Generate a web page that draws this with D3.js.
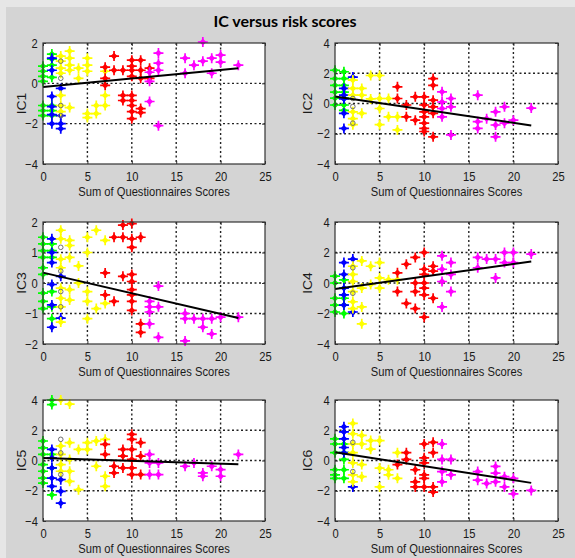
<!DOCTYPE html>
<html>
<head>
<meta charset="utf-8">
<script src="https://cdn.jsdelivr.net/npm/d3@7"></script>
<style>
  body { margin: 0; background: #fff; }
  text { font-family: "Liberation Sans", Arial, sans-serif; }
</style>
</head>
<body>
<div id="chart"></div>
<script>
// textos e eixos
var title = "IC versus risk scores";
var xLabel = "Sum of Questionnaires Scores";
var panelNames = ["IC1", "IC2", "IC3", "IC4", "IC5", "IC6"];
var xTicks = [0, 5, 10, 15, 20, 25];
var yDomains = [[-4, 2], [-4, 4], [-2, 2], [-4, 4], [-4, 4], [-4, 4]];
var yTicks = [[-4, -2, 0, 2], [-4, -2, 0, 2, 4], [-2, -1, 0, 1, 2], [-4, -2, 0, 2, 4], [-4, -2, 0, 2, 4], [-4, -2, 0, 2, 4]];

// reta ajustada: valor em x=0 e em x=22
var fitRange = [0, 22];
var fitEnds = [[-0.18, 0.75], [0.47, -1.45], [0.34, -1.15], [-0.4, 1.41], [0.16, -0.24], [0.55, -1.48]];

// cores dos grupos (K = circulos cinza)
var groupColors = { G: "#00ff00", B: "#0000ff", Y: "#ffff00", R: "#ff0000", M: "#ff00ff", K: "#707070" };

// pontos: [soma dos questionarios, valor IC, grupo]
var ic1 = [
  [0,0.85,"G"],[0,0.6,"G"],[0,0.35,"G"],[0,0.1,"G"],[0,-1.1,"G"],[0,-1.35,"G"],[0,-1.6,"G"],
  [1,1.45,"G"],[1,1.2,"G"],[1,0.9,"G"],[1,0.3,"G"],[1,-1.1,"G"],[1,-1.35,"G"],[1,-1.6,"G"],
  [1,1.25,"B"],[1,0.65,"B"],[1,-0.65,"B"],[1,-1.15,"B"],[1,-1.55,"B"],[1,-2.0,"B"],
  [2,-0.25,"B"],[2,-1.6,"B"],[2,-2.0,"B"],[2,-2.25,"B"],
  [2,1.35,"Y"],[2,1.1,"Y"],[2,0.75,"Y"],[2,0.5,"Y"],[2,-0.6,"Y"],[2,-1.1,"Y"],[2,-1.4,"Y"],
  [3,1.6,"Y"],[3,1.25,"Y"],[3,0.9,"Y"],[3,0.65,"Y"],[3,-1.2,"Y"],
  [4,0.75,"Y"],[4,0.25,"Y"],
  [5,1.25,"Y"],[5,0.9,"Y"],[5,0.6,"Y"],[5,-1.5,"Y"],[5,-1.7,"Y"],
  [6,-1.1,"Y"],[6,-1.5,"Y"],
  [7,0.6,"Y"],[7,-0.6,"Y"],[7,-1.1,"Y"],
  [7,0.8,"R"],[7,0.25,"R"],[7,-0.1,"R"],
  [8,1.35,"R"],[8,0.65,"R"],
  [9,0.65,"R"],[9,-0.6,"R"],[9,-0.85,"R"],
  [10,1.15,"R"],[10,0.85,"R"],[10,0.65,"R"],[10,0.35,"R"],[10,-0.6,"R"],[10,-0.85,"R"],[10,-1.1,"R"],[10,-1.4,"R"],[10,-1.75,"R"],
  [11,1.15,"R"],[11,0.65,"R"],[11,0.25,"R"],[11,-1.25,"R"],[11,-1.45,"R"],
  [12,0.75,"R"],[12,0.25,"R"],
  [12,0.55,"M"],[12,0.1,"M"],[12,-0.9,"M"],
  [13,1.5,"M"],[13,1.0,"M"],[13,0.65,"M"],[13,-2.1,"M"],
  [16,1.25,"M"],[16,0.5,"M"],[17,0.9,"M"],[18,2.05,"M"],[18,1.1,"M"],
  [19,1.25,"M"],[19,0.5,"M"],[20,1.4,"M"],[20,1.05,"M"],[22,0.9,"M"],
  [2,1.1,"K"],[2,0.25,"K"],[2,-1.1,"K"],[2,-1.6,"K"]
];

var ic2 = [
  [0,2.2,"G"],[0,1.65,"G"],[0,1.2,"G"],[0,0.75,"G"],[0,0.35,"G"],[0,-0.1,"G"],
  [1,2.1,"G"],[1,1.65,"G"],[1,1.2,"G"],[1,0.75,"G"],[1,0.35,"G"],[1,-0.1,"G"],[1,-0.45,"G"],
  [1,1.0,"B"],[1,0.55,"B"],[1,0.3,"B"],[1,-0.65,"B"],[1,-1.65,"B"],[2,1.75,"B"],
  [2,1.55,"Y"],[2,1.0,"Y"],[2,0.55,"Y"],[2,-0.55,"Y"],[2,-1.0,"Y"],[2,-1.4,"Y"],
  [3,1.0,"Y"],[3,0.55,"Y"],[3,-0.65,"Y"],
  [4,1.85,"Y"],[4,0.3,"Y"],
  [5,1.85,"Y"],[5,0.33,"Y"],[5,-0.33,"Y"],[5,-1.4,"Y"],
  [6,0.33,"Y"],[6,-0.88,"Y"],
  [7,-0.88,"Y"],[7,-1.75,"Y"],
  [7,1.1,"R"],[7,0.33,"R"],
  [8,-0.1,"R"],[8,-0.88,"R"],
  [9,0.44,"R"],[9,-1.1,"R"],
  [10,0.44,"R"],[10,-0.1,"R"],[10,-0.55,"R"],[10,-0.88,"R"],[10,-1.3,"R"],[10,-1.65,"R"],[10,-1.85,"R"],
  [11,1.65,"R"],[11,1.2,"R"],[11,0.22,"R"],[11,-0.22,"R"],[11,-0.65,"R"],[11,-2.2,"R"],
  [12,0.77,"M"],[12,0.1,"M"],[12,-0.33,"M"],[12,-0.88,"M"],
  [13,0.33,"M"],[13,-0.22,"M"],[13,-2.08,"M"],
  [16,0.55,"M"],[16,-1.2,"M"],[16,-1.65,"M"],[17,-1.0,"M"],
  [18,-0.55,"M"],[18,-1.42,"M"],[18,-2.2,"M"],[19,-0.22,"M"],[19,-1.3,"M"],
  [20,-1.1,"M"],[22,-0.3,"M"],
  [2,0.33,"K"],[2,-0.2,"K"],[2,-1.3,"K"]
];

var ic3 = [
  [0,1.5,"G"],[0,1.28,"G"],[0,1.06,"G"],[0,0.84,"G"],[0,0.5,"G"],[0,0.28,"G"],[0,-0.33,"G"],[0,-0.6,"G"],[0,-0.84,"G"],
  [1,1.28,"G"],[1,1.06,"G"],[1,0.84,"G"],[1,-0.28,"G"],[1,-0.78,"G"],[1,-1.17,"G"],
  [1,1.45,"B"],[1,1.0,"B"],[1,0.67,"B"],[1,-0.05,"B"],[1,-0.72,"B"],[1,-1.45,"B"],
  [2,0.22,"B"],[2,-1.15,"B"],
  [2,1.73,"Y"],[2,1.45,"Y"],[2,0.78,"Y"],[2,0.5,"Y"],[2,-0.17,"Y"],[2,-0.5,"Y"],[2,-0.78,"Y"],[2,-1.28,"Y"],
  [3,1.4,"Y"],[3,1.23,"Y"],[3,0.84,"Y"],[3,-0.22,"Y"],[3,-0.56,"Y"],
  [4,0.56,"Y"],[4,0.0,"Y"],
  [5,1.5,"Y"],[5,1.0,"Y"],[5,-0.28,"Y"],[5,-0.6,"Y"],[5,-1.17,"Y"],
  [6,1.73,"Y"],[6,-0.84,"Y"],
  [7,1.4,"Y"],[7,-0.67,"Y"],
  [7,0.33,"R"],[7,-0.39,"R"],
  [8,1.5,"R"],[8,-0.6,"R"],
  [9,1.9,"R"],[9,1.5,"R"],[9,0.22,"R"],
  [10,1.95,"R"],[10,1.45,"R"],[10,1.17,"R"],[10,0.28,"R"],[10,0.05,"R"],[10,-0.22,"R"],[10,-0.39,"R"],[10,-0.6,"R"],[10,-0.9,"R"],
  [11,1.5,"R"],[11,-1.34,"R"],[11,-1.62,"R"],
  [12,-0.6,"M"],[12,-0.78,"M"],[12,-0.95,"M"],[12,-1.34,"M"],
  [13,-0.1,"M"],[13,-0.78,"M"],[13,-1.78,"M"],
  [16,-1.0,"M"],[16,-1.17,"M"],[16,-1.9,"M"],[17,-1.17,"M"],
  [18,-1.17,"M"],[18,-1.45,"M"],[19,-1.17,"M"],[19,-1.67,"M"],
  [20,-1.12,"M"],[22,-1.12,"M"],
  [2,1.17,"K"],[2,0.39,"K"],[2,-0.28,"K"],[2,-0.78,"K"]
];

var ic4 = [
  [0,0.45,"G"],[0,0.0,"G"],[0,-1.0,"G"],[0,-1.45,"G"],[0,-1.9,"G"],
  [1,0.2,"G"],[1,-1.0,"G"],[1,-1.45,"G"],[1,-2.0,"G"],
  [1,1.34,"B"],[1,0.56,"B"],[1,-0.33,"B"],[1,-0.78,"B"],[1,-1.45,"B"],
  [2,1.57,"B"],[2,-1.9,"B"],
  [2,1.1,"Y"],[2,0.56,"Y"],[2,0.1,"Y"],[2,-0.56,"Y"],[2,-1.23,"Y"],[2,-1.68,"Y"],
  [3,1.45,"Y"],[3,-0.33,"Y"],[3,-1.57,"Y"],[3,-2.68,"Y"],
  [4,1.1,"Y"],[4,-0.1,"Y"],
  [5,1.34,"Y"],[5,0.33,"Y"],[5,-0.33,"Y"],
  [6,0.22,"Y"],[7,0.22,"Y"],
  [7,0.67,"R"],[7,-0.56,"R"],
  [8,1.23,"R"],[8,-1.34,"R"],
  [9,1.68,"R"],[9,0.0,"R"],[9,-0.56,"R"],[9,-1.68,"R"],
  [10,2.0,"R"],[10,0.9,"R"],[10,0.56,"R"],[10,0.0,"R"],[10,-0.33,"R"],[10,-0.78,"R"],[10,-2.24,"R"],
  [11,1.1,"R"],[11,0.78,"R"],[11,-1.0,"R"],
  [12,1.78,"M"],[12,0.9,"M"],[12,0.1,"M"],[12,-1.57,"M"],
  [13,1.34,"M"],[13,0.56,"M"],[13,-0.56,"M"],
  [16,1.68,"M"],[16,1.0,"M"],[17,1.57,"M"],[18,1.57,"M"],[18,0.33,"M"],
  [19,2.0,"M"],[19,1.34,"M"],[20,2.0,"M"],[20,1.34,"M"],[22,1.9,"M"],
  [2,1.0,"K"],[2,-0.67,"K"]
];

var ic5 = [
  [0,1.29,"G"],[0,0.84,"G"],[0,0.4,"G"],[0,-0.27,"G"],[0,-0.71,"G"],[0,-1.16,"G"],[0,-1.49,"G"],
  [1,4.0,"G"],[1,3.7,"G"],[1,0.4,"G"],[1,-0.5,"G"],[1,-2.27,"G"],
  [1,0.73,"B"],[1,0.18,"B"],[1,-0.49,"B"],[1,-1.16,"B"],[1,-1.71,"B"],
  [2,-1.27,"B"],[2,-2.04,"B"],[2,-2.82,"B"],
  [2,4.0,"Y"],[2,0.96,"Y"],[2,0.4,"Y"],[2,-0.27,"Y"],[2,-0.71,"Y"],
  [3,3.73,"Y"],[3,1.18,"Y"],[3,0.07,"Y"],[3,-0.71,"Y"],[3,-1.38,"Y"],
  [4,0.73,"Y"],[4,-1.93,"Y"],
  [5,1.18,"Y"],[5,0.73,"Y"],
  [6,1.29,"Y"],[6,-0.38,"Y"],
  [7,1.4,"Y"],[7,-1.04,"Y"],[7,-1.71,"Y"],
  [7,1.07,"R"],[7,0.4,"R"],
  [8,-0.38,"R"],[8,-0.82,"R"],
  [9,0.73,"R"],[9,0.29,"R"],[9,-0.49,"R"],
  [10,1.73,"R"],[10,1.4,"R"],[10,0.73,"R"],[10,0.07,"R"],[10,-0.49,"R"],[10,-0.93,"R"],
  [11,1.18,"R"],[11,0.29,"R"],[11,-0.93,"R"],
  [12,0.4,"M"],[12,-0.16,"M"],[12,-0.93,"M"],
  [13,-0.16,"M"],[13,-0.93,"M"],
  [16,-0.38,"M"],[17,-0.16,"M"],[18,-0.82,"M"],[18,-1.04,"M"],
  [19,-0.38,"M"],[20,-0.6,"M"],[20,-1.04,"M"],[22,0.4,"M"],
  [2,1.4,"K"],[2,0.5,"K"],[2,-0.93,"K"]
];

var ic6 = [
  [0,1.43,"G"],[0,1.09,"G"],[0,0.52,"G"],[0,-0.61,"G"],[0,-0.95,"G"],[0,-1.18,"G"],
  [1,1.09,"G"],[1,0.52,"G"],[1,0.07,"G"],[1,-0.61,"G"],[1,-1.18,"G"],
  [1,2.23,"B"],[1,1.89,"B"],[1,1.43,"B"],[1,0.86,"B"],[1,0.52,"B"],
  [2,-1.75,"B"],
  [2,2.45,"Y"],[2,1.77,"Y"],[2,1.09,"Y"],[2,0.52,"Y"],[2,-0.16,"Y"],[2,-0.95,"Y"],[2,-1.41,"Y"],
  [3,1.66,"Y"],[3,1.09,"Y"],[3,-0.27,"Y"],[3,-1.07,"Y"],
  [4,1.32,"Y"],[4,0.75,"Y"],
  [5,1.32,"Y"],[5,-0.5,"Y"],[5,-1.75,"Y"],
  [6,-0.61,"Y"],[6,-0.95,"Y"],
  [7,0.52,"Y"],[7,-1.18,"Y"],
  [7,-0.27,"R"],
  [8,0.52,"R"],[8,0.07,"R"],
  [9,-0.61,"R"],[9,-1.41,"R"],[9,-1.75,"R"],
  [10,1.09,"R"],[10,0.18,"R"],[10,-0.16,"R"],[10,-0.95,"R"],[10,-1.18,"R"],[10,-1.75,"R"],
  [11,1.2,"R"],[11,0.52,"R"],[11,-1.75,"R"],[11,-2.09,"R"],
  [12,1.09,"M"],[12,0.07,"M"],[12,-0.73,"M"],[12,-1.41,"M"],
  [13,0.07,"M"],[13,-0.95,"M"],
  [16,-0.73,"M"],[16,-1.3,"M"],[17,-1.52,"M"],
  [18,-0.39,"M"],[18,-0.84,"M"],[18,-1.41,"M"],[19,-1.07,"M"],[19,-1.75,"M"],
  [20,-1.18,"M"],[20,-2.2,"M"],[22,-1.98,"M"],
  [2,1.2,"K"],[2,-0.73,"K"]
];

var panelValues = [ic1, ic2, ic3, ic4, ic5, ic6];
var groupOrder = ["G", "B", "Y", "R", "M", "K"];

// layout
var width = 575, height = 558;
var colX = [[43, 265], [335, 558]];
var rowY = [[43, 164], [222, 344], [400, 521]];
var yLabelGap = [17, 23];
var squeeze = "scale(0.86,1)";

var svg = d3.select("#chart").append("svg")
    .attr("width", width)
    .attr("height", height);

// fundo cinza
svg.append("rect").attr("width", width).attr("height", height).attr("fill", "#e6e6e6");
svg.append("rect").attr("x", 6).attr("y", 7).attr("width", width - 6).attr("height", height - 7).attr("fill", "#d4d4d4");

svg.append("text")
    .attr("x", 285)
    .attr("y", 27)
    .attr("text-anchor", "middle")
    .style("font-family", "Lato, 'Open Sans', sans-serif")
    .style("font-weight", "bold")
    .style("font-size", "16px")
    .text(title);

var marker = "M-5,0H5M0,-5V5";
var diamond = "M0,-3.4L3.4,0L0,3.4L-3.4,0Z";

panelValues.forEach(function (points, i) {
    var col = i % 2, row = Math.floor(i / 2);
    var x0 = colX[col][0], x1 = colX[col][1];
    var y0 = rowY[row][0], y1 = rowY[row][1];
    var w = x1 - x0, h = y1 - y0;

    var x = d3.scaleLinear().domain([0, 25]).range([0, w]);
    var y = d3.scaleLinear().domain(yDomains[i]).range([h, 0]);

    var g = svg.append("g").attr("transform", `translate(${x0},${y0})`);

    g.append("rect").attr("width", w).attr("height", h).attr("fill", "#fff");

    // grade pontilhada
    g.selectAll("line.vgrid")
        .data(xTicks.filter(t => t > 0 && t < 25))
        .join("line")
        .attr("class", "vgrid")
        .attr("x1", d => x(d)).attr("x2", d => x(d))
        .attr("y1", 0).attr("y2", h)
        .attr("stroke", "#222").attr("stroke-width", 1.4)
        .attr("stroke-dasharray", "2,2.5");
    var dom = yDomains[i];
    g.selectAll("line.hgrid")
        .data(yTicks[i].filter(t => t > dom[0] && t < dom[1]))
        .join("line")
        .attr("class", "hgrid")
        .attr("x1", 0).attr("x2", w)
        .attr("y1", d => y(d)).attr("y2", d => y(d))
        .attr("stroke", "#222").attr("stroke-width", 1.4)
        .attr("stroke-dasharray", "2,2.5");

    // pontos por grupo
    groupOrder.forEach(function (grp) {
        var pts = points.filter(p => p[2] === grp);
        var sel = g.selectAll("g.pt-" + grp)
            .data(pts)
            .join("g")
            .attr("class", "pt-" + grp)
            .attr("transform", d => `translate(${x(d[0])},${y(d[1])})`);
        if (grp === "K") {
            sel.append("circle")
                .attr("r", 2.3)
                .attr("fill", "none")
                .attr("stroke", groupColors.K)
                .attr("stroke-width", 1);
        } else {
            sel.append("path")
                .attr("d", marker)
                .attr("stroke", groupColors[grp])
                .attr("stroke-width", 1.7)
                .attr("fill", "none");
            sel.append("path")
                .attr("d", diamond)
                .attr("fill", groupColors[grp]);
        }
    });

    // reta ajustada
    var fit = [[fitRange[0], fitEnds[i][0]], [fitRange[1], fitEnds[i][1]]];
    g.append("path")
        .datum(fit)
        .attr("d", d3.line().x(d => x(d[0])).y(d => y(d[1])))
        .attr("fill", "none")
        .attr("stroke", "#000")
        .attr("stroke-width", 2);

    // eixos com ticks para dentro
    var bottom = g.append("g").attr("transform", `translate(0,${h})`)
        .call(d3.axisBottom(x).tickValues(xTicks).tickSize(-3).tickSizeOuter(0).tickPadding(8));
    var left = g.append("g")
        .call(d3.axisLeft(y).tickValues(yTicks[i]).tickSize(-3).tickSizeOuter(0).tickPadding(6).tickFormat(d3.format("d")));
    g.append("g")
        .call(d3.axisTop(x).tickValues(xTicks).tickSize(-3).tickSizeOuter(0).tickFormat(""));
    g.append("g").attr("transform", `translate(${w},0)`)
        .call(d3.axisRight(y).tickValues(yTicks[i]).tickSize(-3).tickSizeOuter(0).tickFormat(""));
    g.selectAll(".domain").remove();
    g.selectAll(".tick line").attr("stroke", "#333");
    [bottom, left].forEach(function (ax) {
        ax.selectAll("text")
            .attr("fill", "#1a1a1a")
            .style("font-size", "13px")
            .style("font-family", "'Liberation Sans', Arial, sans-serif")
            .attr("transform", squeeze);
    });

    // moldura
    g.append("rect")
        .attr("width", w).attr("height", h)
        .attr("fill", "none")
        .attr("stroke", "#333")
        .attr("stroke-width", 1.2);

    g.append("text")
        .attr("transform", `translate(${w / 2},${h + 32}) ${squeeze}`)
        .attr("text-anchor", "middle")
        .attr("fill", "#1a1a1a")
        .style("font-size", "13px")
        .text(xLabel);

    g.append("text")
        .attr("transform", `translate(${-yLabelGap[col]},${h / 2}) rotate(-90) scale(1,0.9)`)
        .attr("text-anchor", "middle")
        .attr("fill", "#1a1a1a")
        .style("font-size", "14px")
        .text(panelNames[i]);
});
</script>
</body>
</html>
